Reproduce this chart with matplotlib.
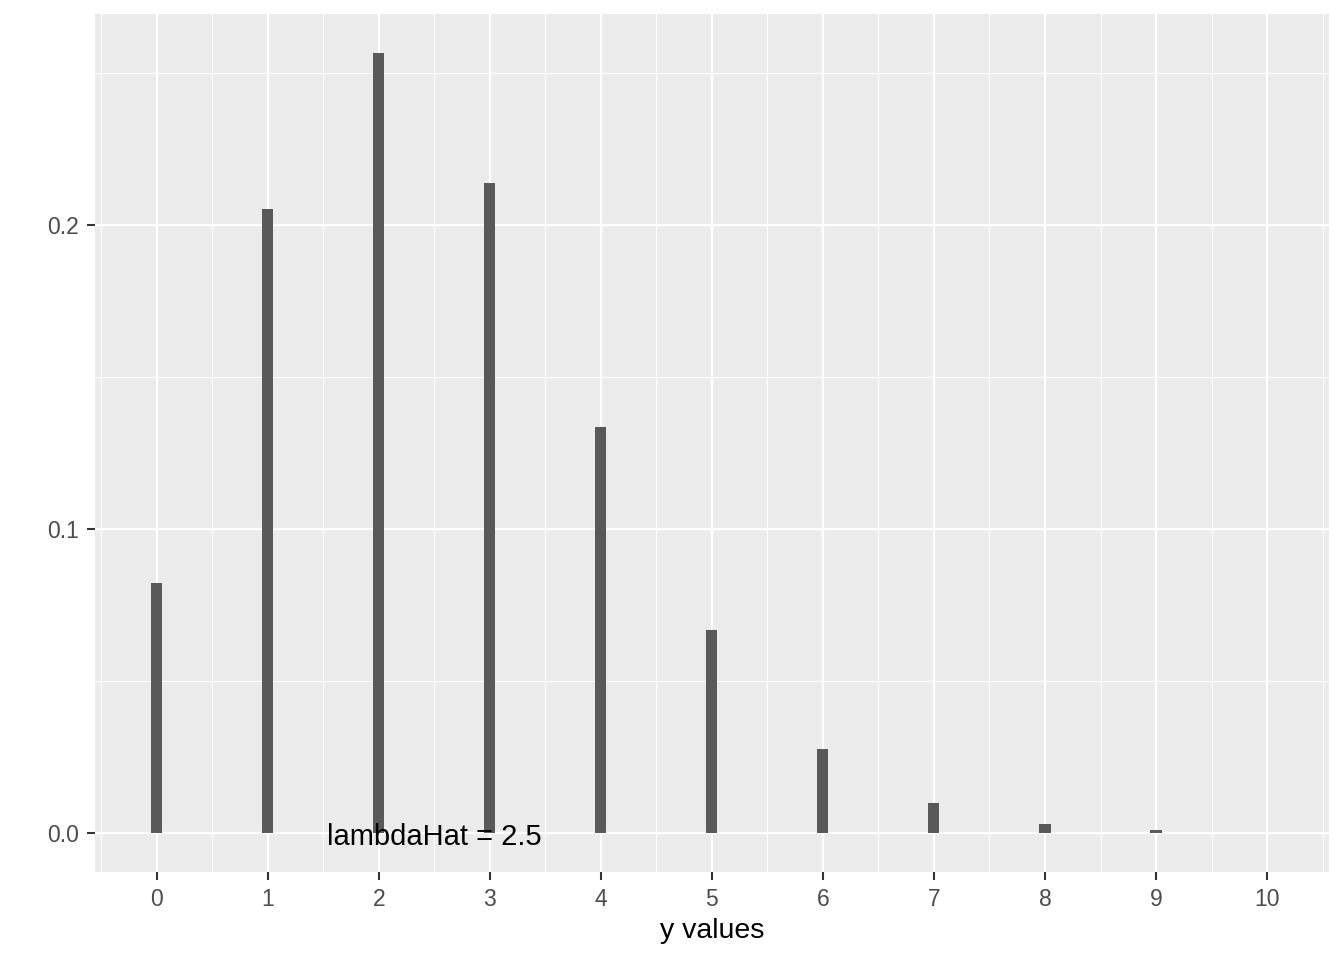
import numpy as np
import matplotlib
matplotlib.use("Agg")
import matplotlib.pyplot as plt

# poisson probabilities
y_vals = [0, 1, 2, 3, 4, 5, 6, 7, 8, 9, 10]
probs = [0.0821, 0.2052, 0.2565, 0.2138, 0.1336, 0.0668, 0.0278, 0.0099, 0.0031, 0.0009, 0.0]
y_ticks = [0.0, 0.1, 0.2]
y_ticklabels = ["0.0", "0.1", "0.2"]
label_text = "lambdaHat = 2.5"
label_x = 2.5

plt.rcParams['font.family'] = ['Liberation Sans', 'DejaVu Sans']

fig = plt.figure(figsize=(13.44, 9.6), dpi=100)
ax = fig.add_axes([95 / 1344, 88 / 960, (1328.7 - 95) / 1344, (872 - 14) / 960])
ax.set_facecolor('#EBEBEB')

ax.bar(y_vals, probs, width=0.1, color='#595959', linewidth=0, zorder=3)
ax.annotate(label_text, (label_x, 0), xytext=(0, -4), textcoords='offset pixels',
            ha='center', va='center', fontsize=21, color='black', zorder=4)

ax.set_xlim(-0.555, 10.555)
ax.set_ylim(-0.0128, 0.2693)
ax.set_xticks(y_vals)
ax.set_xticklabels([str(v) for v in y_vals])
ax.set_yticks(y_ticks)
ax.set_yticklabels(y_ticklabels)
ax.set_xticks(np.arange(-0.5, 10.6, 1.0), minor=True)
ax.set_yticks([0.05, 0.15, 0.25], minor=True)

ax.grid(which='major', color='white', linewidth=1.6, zorder=1)
ax.grid(which='minor', color='white', linewidth=0.8, zorder=1)
ax.set_axisbelow(True)

for s in ax.spines.values():
    s.set_visible(False)

ax.tick_params(which='major', length=5.5, width=1.5, color='#333333',
               labelsize=16.5, labelcolor='#4D4D4D', pad=6)
ax.tick_params(which='minor', length=0)

ax.set_xlabel('y values', fontsize=20.5, color='black', labelpad=5)

plt.savefig('out.png', dpi=100, facecolor='white')
